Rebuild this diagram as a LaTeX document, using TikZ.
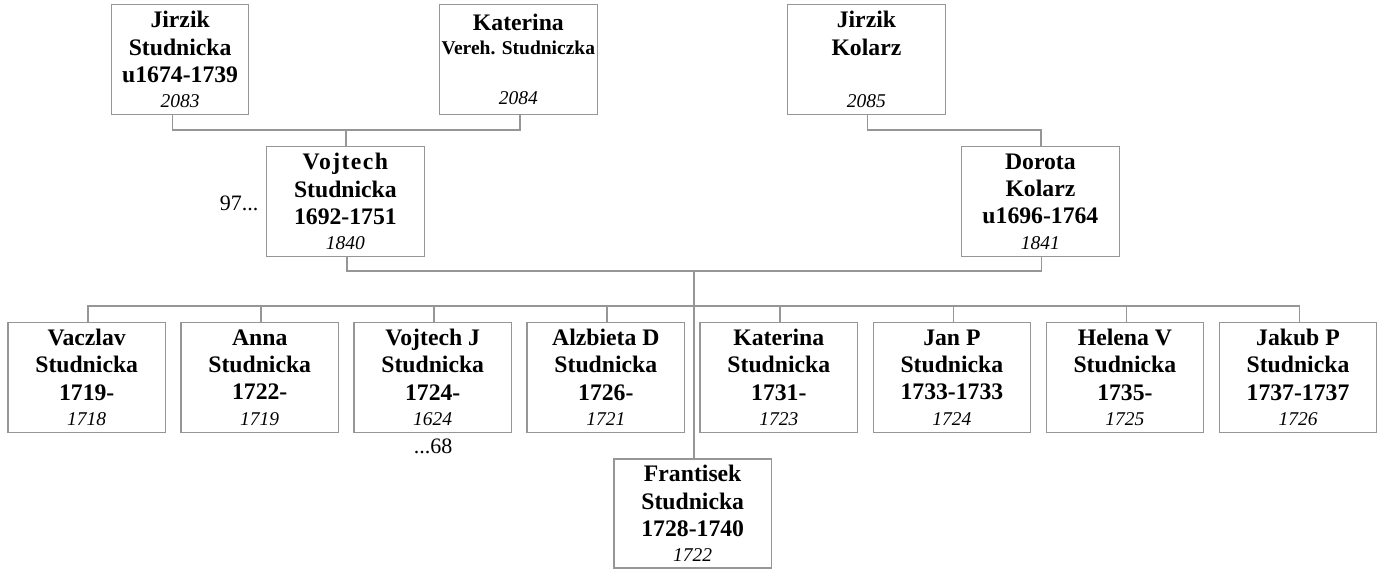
\documentclass[tikz,border=0pt]{standalone}
\usepackage{fontspec}
\setmainfont{Liberation Serif}
\definecolor{linegray}{RGB}{150,150,150}
\newcommand\yrline[1]{{\fontsize{19.5}{20}\selectfont\mdseries\itshape #1}}
\newcommand\smallbold[1]{{\fontsize{19.5}{20}\selectfont\bfseries #1}}
\begin{document}
\begin{tikzpicture}[x=1pt,y=-1pt,
  box/.style={draw=linegray, line width=1.3pt, minimum width=157.5pt, minimum height=109.5pt,
    inner sep=0pt, align=center, anchor=north west,
    font=\fontsize{23.7}{27.3}\selectfont\bfseries},
  conn/.style={draw=linegray, line width=1.3pt},
  note/.style={font=\fontsize{22}{24}\selectfont, inner sep=0pt}]
\useasboundingbox (0,0) rectangle (1382,569);
% top generation
\node[box, minimum width=137pt, minimum height=110pt] (js) at (111,4) {Jirzik\\Studnicka\\u1674-1739\\[-2pt]\yrline{2083}};
\node[box, minimum height=110pt] (kat) at (439,4) {Katerina\\[-3.5pt]\smallbold{Vereh. Studniczka}\\[-2pt]\mbox{}\\[-2pt]\yrline{2084}};
\node[box, minimum height=110pt] (jk) at (787,4) {Jirzik\\Kolarz\\\mbox{}\\[-2pt]\yrline{2085}};
% parents
\node[box, minimum height=110pt] (vs) at (266,146) {{\addfontfeature{LetterSpace=6}Vojtech}\\Studnicka\\1692-1751\\[-2pt]\yrline{1840}};
\node[box, minimum height=110pt] (dk) at (961,146) {Dorota\\Kolarz\\u1696-1764\\[-2pt]\yrline{1841}};
% children
\node[box] (c1) at (7.3,322) {Vaczlav\\Studnicka\\1719-\\[-2pt]\yrline{1718}};
\node[box] (c2) at (180.3,322) {Anna\\Studnicka\\1722-\\[-2pt]\yrline{1719}};
\node[box] (c3) at (353.3,322) {Vojtech J\\Studnicka\\1724-\\[-2pt]\yrline{1624}};
\node[box] (c4) at (526.4,322) {Alzbieta D\\Studnicka\\1726-\\[-2pt]\yrline{1721}};
\node[box] (c5) at (699.4,322) {Katerina\\Studnicka\\1731-\\[-2pt]\yrline{1723}};
\node[box] (c6) at (872.5,322) {Jan P\\Studnicka\\1733-1733\\[-2pt]\yrline{1724}};
\node[box] (c7) at (1045.5,322) {Helena V\\Studnicka\\1735-\\[-2pt]\yrline{1725}};
\node[box] (c8) at (1218.6,322) {Jakub P\\Studnicka\\1737-1737\\[-2pt]\yrline{1726}};
\node[box, minimum height=109pt] (fr) at (613.3,458.3) {Frantisek\\Studnicka\\1728-1740\\[-2pt]\yrline{1722}};
% notes
\node[note, anchor=base east] (n97) at (258.5,211) {97...};
\node[note, anchor=base] (n68) at (433,453) {...68};
% connectors
\coordinate (m1) at (346,130);
\coordinate (m2) at (1041,130);
\coordinate (m3) at (694,271);
\coordinate (h) at (0,306);
\draw[conn] ([xshift=-7.5pt]js.south) |- (m1) -| ([xshift=1.5pt]kat.south);
\draw[conn] (m1) -- (m1 |- vs.north);
\draw[conn] ([xshift=1pt]jk.south) |- (m2) -- (m2 |- dk.north);
\draw[conn] ([xshift=1.5pt]vs.south) |- (m3) -| ([xshift=1pt]dk.south);
\draw[conn] (m3) -- (m3 |- fr.north);
\draw[conn] ([xshift=1.3pt]c1.north) |- ([xshift=1.3pt]c8.north |- h) -- ([xshift=1.3pt]c8.north);
\foreach \c in {c2,c3,c4,c5,c6,c7}{
  \draw[conn] ([xshift=1.3pt]\c.north) -- ([xshift=1.3pt]\c.north |- h);
}
\end{tikzpicture}
\end{document}
